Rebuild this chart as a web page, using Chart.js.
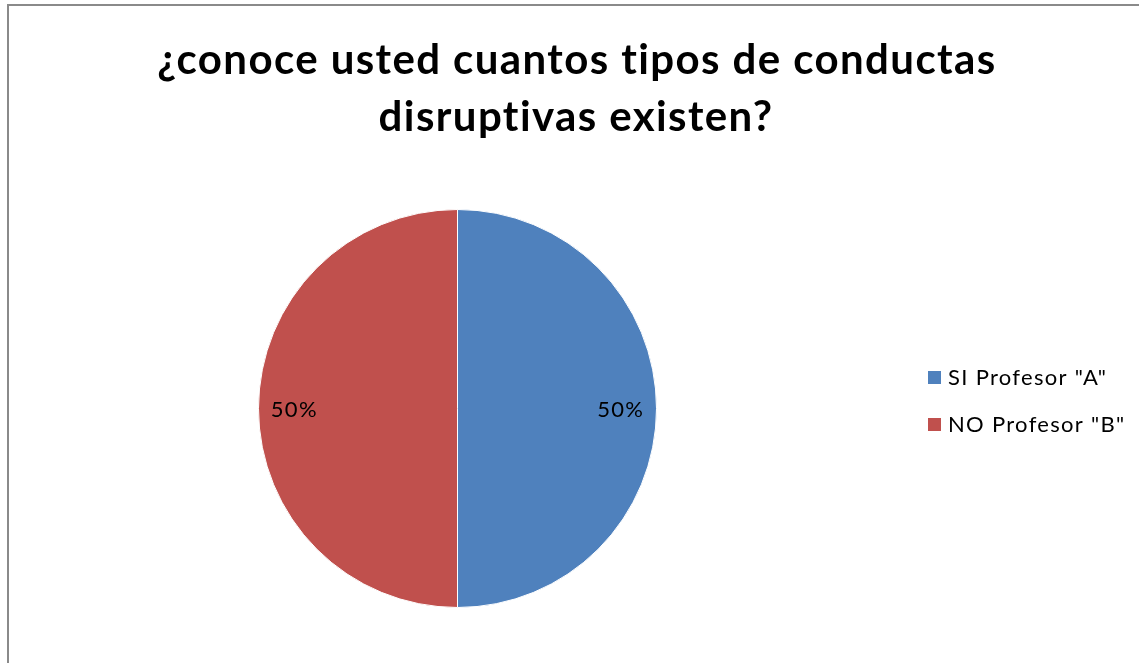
<!DOCTYPE html>
<html>
<head>
<meta charset="utf-8">
<script src="https://cdn.jsdelivr.net/npm/chart.js@4"></script>
<style>
html,body{margin:0;padding:0;background:#fff;overflow:hidden;}
#frame{position:absolute;left:7px;top:4px;width:1200px;height:720px;border:2px solid #8a8a8a;box-sizing:border-box;}
#wrap{position:absolute;left:0;top:0;width:1139px;height:663px;}
</style>
</head>
<body>
<div id="frame"></div>
<div id="wrap"><canvas id="c" width="1139" height="663"></canvas></div>
<script>
const titleLines = ['¿conoce usted cuantos tipos de conductas', 'disruptivas existen?'];
const categories = ['SI Profesor "A"', 'NO Profesor "B"'];
const values = [50, 50];
const colors = ['#4F81BD', '#C0504D'];

const FONT = 'Lato, "Open Sans", sans-serif';

const overlay = {
  id: 'overlay',
  afterDraw(chart) {
    const ctx = chart.ctx;
    ctx.save();
    // title
    ctx.fillStyle = '#000';
    ctx.textAlign = 'center';
    ctx.textBaseline = 'middle';
    ctx.font = 'bold 42px ' + FONT;
    ctx.letterSpacing = '1.4px';
    ctx.fillText(titleLines[0], 577, 60);
    ctx.fillText(titleLines[1], 576, 117);
    // data labels
    const meta = chart.getDatasetMeta(0);
    const total = values.reduce((a, b) => a + b, 0);
    ctx.font = '22px ' + FONT;
    ctx.letterSpacing = '1.3px';
    meta.data.forEach((arc, i) => {
      const p = arc.getProps(['x', 'y', 'startAngle', 'endAngle', 'outerRadius'], true);
      const mid = (p.startAngle + p.endAngle) / 2;
      const r = p.outerRadius * 0.82;
      const x = p.x + Math.cos(mid) * r;
      const y = p.y + Math.sin(mid) * r;
      ctx.fillStyle = '#000';
      ctx.fillText(Math.round(values[i] / total * 100) + '%', x, y + 1);
    });
    // legend
    ctx.textAlign = 'left';
    ctx.font = '22px ' + FONT;
    ctx.letterSpacing = '1.3px';
    categories.forEach((lab, i) => {
      const y = 377 + i * 47;
      ctx.fillStyle = colors[i];
      ctx.fillRect(928, y - 6, 13, 13);
      ctx.fillStyle = '#000';
      ctx.fillText(lab, 948, y + 1);
    });
    ctx.restore();
  }
};

new Chart(document.getElementById('c'), {
  type: 'pie',
  data: {
    labels: categories,
    datasets: [{
      data: values,
      backgroundColor: colors,
      borderColor: '#ffffff',
      borderWidth: 1
    }]
  },
  options: {
    responsive: false,
    animation: false,
    layout: { padding: { left: 258, right: 482, top: 209, bottom: 55 } },
    plugins: {
      legend: { display: false },
      title: { display: false },
      tooltip: { enabled: false }
    }
  },
  plugins: [overlay]
});
</script>
</body>
</html>
